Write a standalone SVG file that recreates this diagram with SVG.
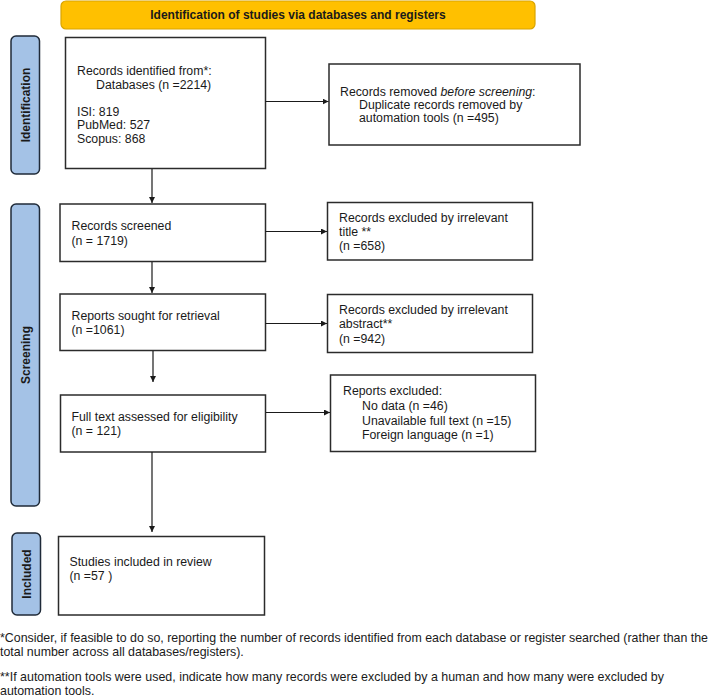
<svg xmlns="http://www.w3.org/2000/svg" width="709" height="696" viewBox="0 0 709 696">
<style>
text{font-family:"Liberation Sans",Arial,sans-serif;font-size:12.3px;fill:#1a1a1a}
.box{fill:#fff;stroke:#2b2b2b;stroke-width:1.5}
.side{fill:#a4c2e6;stroke:#1f2a38;stroke-width:1.5}
.lbl{font-weight:bold;text-anchor:middle;font-size:12px}
.ln{stroke:#1a1a1a;stroke-width:1.2;fill:none}
.fn{font-size:12.4px}
</style>
<defs>
<marker id="ah" viewBox="0 0 10 10" refX="10" refY="5" markerWidth="6" markerHeight="6" markerUnits="userSpaceOnUse" orient="auto">
<path d="M0,0L10,5L0,10z" fill="#1a1a1a"/>
</marker>
</defs>
<rect width="709" height="696" fill="#fff"/>
<g id="banner">
<rect x="61" y="1" width="474" height="28" rx="5" fill="#ffc000" stroke="#d9a400" stroke-width="1.2"/>
<text x="298" y="19" class="lbl">Identification of studies via databases and registers</text>
</g>
<g id="side-identification">
<rect class="side" x="11" y="36" width="28.5" height="138" rx="5"/>
<text class="lbl" transform="translate(29.5,105) rotate(-90)">Identification</text>
</g>
<g id="side-screening">
<rect class="side" x="11" y="204" width="28.5" height="302" rx="5"/>
<text class="lbl" transform="translate(29.5,355) rotate(-90)">Screening</text>
</g>
<g id="side-included">
<rect class="side" x="12" y="533" width="28.5" height="82" rx="5"/>
<text class="lbl" transform="translate(30.5,574) rotate(-90)">Included</text>
</g>
<g id="records-identified">
<rect class="box" x="65.5" y="37.5" width="200" height="131"/>
<text x="77" y="75">Records identified from*:</text>
<text x="96" y="88.5">Databases (n =2214)</text>
<text x="77" y="115.5">ISI: 819</text>
<text x="77" y="129">PubMed: 527</text>
<text x="77" y="142.5">Scopus: 868</text>
</g>
<g id="records-removed">
<rect class="box" x="329" y="64" width="251" height="81"/>
<text x="340" y="95.5">Records removed <tspan font-style="italic">before screening</tspan>:</text>
<text x="359" y="108.5">Duplicate records removed by</text>
<text x="359" y="121.5">automation tools (n =495)</text>
</g>
<g id="records-screened">
<rect class="box" x="60" y="204" width="205.5" height="57.5"/>
<text x="71.5" y="230">Records screened</text>
<text x="71.5" y="244.5">(n = 1719)</text>
</g>
<g id="excluded-title">
<rect class="box" x="327.5" y="202.5" width="205" height="57.5"/>
<text x="339" y="221.5">Records excluded by irrelevant</text>
<text x="339" y="235.5">title **</text>
<text x="339" y="250">(n =658)</text>
</g>
<g id="reports-sought">
<rect class="box" x="60" y="294" width="205.5" height="56.5"/>
<text x="71.5" y="320">Reports sought for retrieval</text>
<text x="71.5" y="334">(n =1061)</text>
</g>
<g id="excluded-abstract">
<rect class="box" x="327.5" y="294.5" width="205" height="58"/>
<text x="339" y="313.5">Records excluded by irrelevant</text>
<text x="339" y="328">abstract**</text>
<text x="339" y="342.5">(n =942)</text>
</g>
<g id="full-text">
<rect class="box" x="60.5" y="395" width="205" height="57"/>
<text x="71.5" y="421">Full text assessed for eligibility</text>
<text x="71.5" y="435">(n = 121)</text>
</g>
<g id="reports-excluded">
<rect class="box" x="330.5" y="375" width="205" height="76.5"/>
<text x="343" y="395">Reports excluded:</text>
<text x="362" y="410">No data (n =46)</text>
<text x="362" y="424.5">Unavailable full text (n =15)</text>
<text x="362" y="438.5">Foreign language (n =1)</text>
</g>
<g id="included">
<rect class="box" x="58.5" y="536.5" width="206" height="78.5"/>
<text x="69.5" y="565.5">Studies included in review</text>
<text x="69.5" y="580">(n =57 )</text>
</g>
<g id="connectors">
<line class="ln" x1="152" y1="169" x2="152" y2="203" marker-end="url(#ah)"/>
<line class="ln" x1="152" y1="262" x2="152" y2="293" marker-end="url(#ah)"/>
<line class="ln" x1="153" y1="351" x2="153" y2="382" marker-end="url(#ah)"/>
<line class="ln" x1="152" y1="452" x2="152" y2="532" marker-end="url(#ah)"/>
<line class="ln" x1="265.5" y1="101.5" x2="328.5" y2="101.5" marker-end="url(#ah)"/>
<line class="ln" x1="265.5" y1="231.5" x2="327" y2="231.5" marker-end="url(#ah)"/>
<line class="ln" x1="265.5" y1="323.5" x2="327" y2="323.5" marker-end="url(#ah)"/>
<line class="ln" x1="266" y1="412.5" x2="330" y2="412.5" marker-end="url(#ah)"/>
</g>
<g id="footnotes">
<text class="fn" x="0" y="642" textLength="708" lengthAdjust="spacingAndGlyphs">*Consider, if feasible to do so, reporting the number of records identified from each database or register searched (rather than the</text>
<text class="fn" x="0" y="656">total number across all databases/registers).</text>
<text class="fn" x="0" y="681" textLength="664" lengthAdjust="spacingAndGlyphs">**If automation tools were used, indicate how many records were excluded by a human and how many were excluded by</text>
<text class="fn" x="0" y="694.5">automation tools.</text>
</g>
</svg>
